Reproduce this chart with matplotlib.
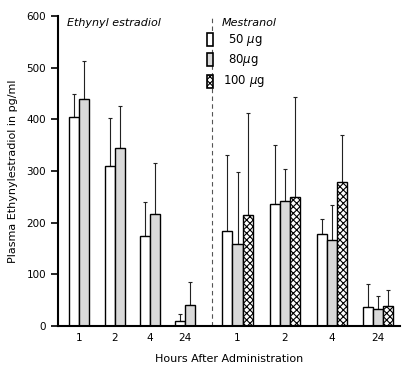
import numpy as np
import matplotlib.pyplot as plt

plt.rcParams['hatch.linewidth'] = 0.8

hours = ['1', '2', '4', '24']

# Ethynyl estradiol (pg/ml): mean and upper error
ee_50 = [404, 310, 174, 10]
ee_50_err = [45, 92, 66, 13]
ee_80 = [439, 344, 217, 41]
ee_80_err = [74, 82, 99, 44]

# Mestranol (pg/ml)
me_50 = [184, 236, 178, 37]
me_50_err = [147, 114, 29, 44]
me_80 = [159, 242, 166, 33]
me_80_err = [139, 62, 68, 25]
me_100 = [215, 250, 279, 39]
me_100_err = [197, 193, 90, 31]

doses = ['50 $\\mu$g', '80$\\mu$g', '100 $\\mu$g']

# layout (x in axis units, bar width ~10)
w = 10.3
ee_pos = np.array([21, 57, 92, 127])
me_pos = np.array([179.5, 227, 274, 320])
div_x = 154


def bars(ax, x, h, err, face, hatch=None):
    ax.bar(x, h, w, facecolor=face, edgecolor='black', linewidth=1.0,
           hatch=hatch, zorder=2)
    ax.errorbar(x, h, yerr=[np.zeros(len(h)), err], fmt='none',
                ecolor='#222222', elinewidth=0.8, capsize=1.5, capthick=0.8,
                zorder=1)


fig = plt.figure(figsize=(4.09, 3.76), dpi=100)
ax = fig.add_axes([58 / 409, 50 / 376, 342 / 409, 310 / 376])

grey = '#d9d9d9'
bars(ax, ee_pos - w / 2, ee_50, ee_50_err, 'white')
bars(ax, ee_pos + w / 2, ee_80, ee_80_err, grey)
bars(ax, me_pos - w, me_50, me_50_err, 'white')
bars(ax, me_pos, me_80, me_80_err, grey)
bars(ax, me_pos + w, me_100, me_100_err, 'white', hatch='xxxxx')

ax.axvline(div_x, color='#555555', ls=(0, (4, 3)), lw=0.8, zorder=0)

ax.set_xlim(0, 342)
ax.set_ylim(0, 600)
ax.set_yticks(range(0, 601, 100))
ax.set_xticks(np.concatenate([ee_pos, me_pos]))
ax.set_xticklabels(hours + hours)
ax.tick_params(axis='x', length=0, pad=5, labelsize=7.5)
ax.tick_params(axis='y', length=5, width=1.2, labelsize=7.5)
for s in ['top', 'right']:
    ax.spines[s].set_visible(False)
ax.spines['left'].set_linewidth(1.5)
ax.spines['bottom'].set_linewidth(1.5)

ax.set_ylabel('Plasma Ethynylestradiol in pg/ml', fontsize=8, labelpad=6)
ax.set_xlabel('Hours After Administration', fontsize=8, labelpad=8)

ax.text(9, 586, 'Ethynyl estradiol', style='italic', fontsize=8,
        va='center', ha='left')
ax.text(164, 586, 'Mestranol', style='italic', fontsize=8,
        va='center', ha='left')

# legend drawn by hand
faces = ['white', grey, 'white']
hatches = [None, None, 'xxxxx']
ys = [554, 515, 474]
text_x = [170, 170, 165]
for lab, fc, ht, y, tx in zip(doses, faces, hatches, ys, text_x):
    ax.bar(152, 25, 5.5, bottom=y - 12.5, facecolor=fc, edgecolor='black',
           linewidth=1.2, hatch=ht, clip_on=False, zorder=3)
    ax.text(tx, y, lab, fontsize=8.5, va='center', ha='left')

fig.savefig('out.png', dpi=100)
